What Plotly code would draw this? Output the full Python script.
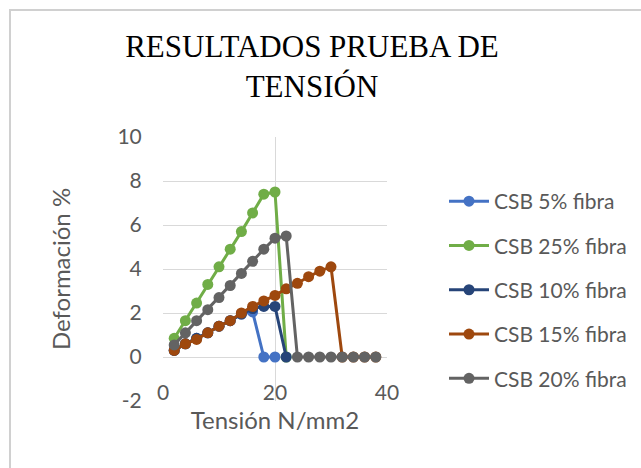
import plotly.graph_objects as go

# Tensile test results: deformation (%) against applied stress (N/mm2)
tension_5 = [2, 4, 6, 8, 10, 12, 14, 16, 18, 20]
deform_5 = [0.3, 0.6, 0.85, 1.1, 1.4, 1.65, 1.95, 2.05, 0, 0]

tension_25 = [2, 4, 6, 8, 10, 12, 14, 16, 18, 20, 22]
deform_25 = [0.85, 1.65, 2.45, 3.3, 4.1, 4.9, 5.7, 6.55, 7.4, 7.5, 0]

tension_10 = [2, 4, 6, 8, 10, 12, 14, 16, 18, 20, 22]
deform_10 = [0.3, 0.6, 0.85, 1.1, 1.4, 1.65, 1.95, 2.2, 2.3, 2.3, 0]

tension_15 = [2, 4, 6, 8, 10, 12, 14, 16, 18, 20, 22, 24, 26, 28, 30, 32, 34, 36, 38]
deform_15 = [0.3, 0.6, 0.8, 1.1, 1.4, 1.65, 2.0, 2.3, 2.55, 2.8, 3.1, 3.35, 3.65, 3.9, 4.1,
             0, 0, 0, 0]

tension_20 = [2, 4, 6, 8, 10, 12, 14, 16, 18, 20, 22, 24, 26, 28, 30, 32, 34, 36, 38]
deform_20 = [0.55, 1.1, 1.65, 2.15, 2.7, 3.25, 3.8, 4.35, 4.9, 5.4, 5.5,
             0, 0, 0, 0, 0, 0, 0, 0]

series = [
    ("CSB 5% fibra", tension_5, deform_5, "#4472C4"),
    ("CSB 25% fibra", tension_25, deform_25, "#70AD47"),
    ("CSB 10% fibra", tension_10, deform_10, "#264478"),
    ("CSB 15% fibra", tension_15, deform_15, "#9E480E"),
    ("CSB 20% fibra", tension_20, deform_20, "#636363"),
]

x_ticks = [0, 20, 40]
y_ticks = [-2, 0, 2, 4, 6, 8, 10]
y_tick_labels = ["-2", "0", "2", "4", "6", "8", "10"]

TEXT = "#595959"
GRID = "#D9D9D9"
SANS = "Lato, 'Liberation Sans', sans-serif"

fig = go.Figure()
for name, xs, ys, color in series:
    fig.add_trace(go.Scatter(
        x=xs, y=ys, name=name, mode="lines+markers",
        legendgroup=name,
        line=dict(color=color, width=3),
        marker=dict(color=color, size=11),
    ))

W, H = 641, 468
L, R, T, B = 163, 254, 137, 67
pw, ph = W - L - R, H - T - B


def px_x(p):
    return (p - L) / pw


def px_y(p):
    return (H - B - p) / ph


fig.update_layout(
    width=W, height=H,
    margin=dict(l=L, r=R, t=T, b=B, autoexpand=False),
    paper_bgcolor="white", plot_bgcolor="white",
    title=dict(
        text="RESULTADOS PRUEBA DE<br>TENSIÓN",
        font=dict(family="'Liberation Serif', 'Times New Roman', serif", size=31, color="black"),
        x=312 / W, xanchor="center", y=1 - 57 / H, yanchor="top",
    ),
    xaxis=dict(
        range=[0, 40], tickvals=x_ticks, showgrid=True, gridcolor=GRID, gridwidth=1,
        zeroline=False, showline=False, ticks="",
        anchor="free", position=px_y(378),
        tickfont=dict(family=SANS, size=21, color=TEXT),
        title=dict(text="Tensión N/mm2", font=dict(family=SANS, size=24, color=TEXT), standoff=9),
        automargin=False,
    ),
    yaxis=dict(
        range=[-2, 10], tickvals=y_ticks, ticktext=y_tick_labels,
        showgrid=True, gridcolor=GRID, gridwidth=1,
        zeroline=False, showline=False, ticks="outside", ticklen=16,
        tickcolor="rgba(0,0,0,0)",
        tickfont=dict(family=SANS, size=21, color=TEXT),
        title=dict(text="Deformación %", font=dict(family=SANS, size=24, color=TEXT), standoff=40),
        automargin=False,
    ),
    legend=dict(
        x=px_x(444), y=px_y(181), xanchor="left", yanchor="top",
        font=dict(family=SANS, size=21, color=TEXT),
        tracegroupgap=14, itemwidth=40, bgcolor="rgba(0,0,0,0)",
    ),
    showlegend=True,
    shapes=[dict(
        type="rect", xref="paper", yref="paper",
        x0=px_x(10), x1=px_x(W + 20), y0=px_y(H + 20), y1=px_y(10),
        line=dict(color="#D0D0D0", width=2), fillcolor="rgba(0,0,0,0)", layer="below",
    )],
)

fig.write_html("out.html")
